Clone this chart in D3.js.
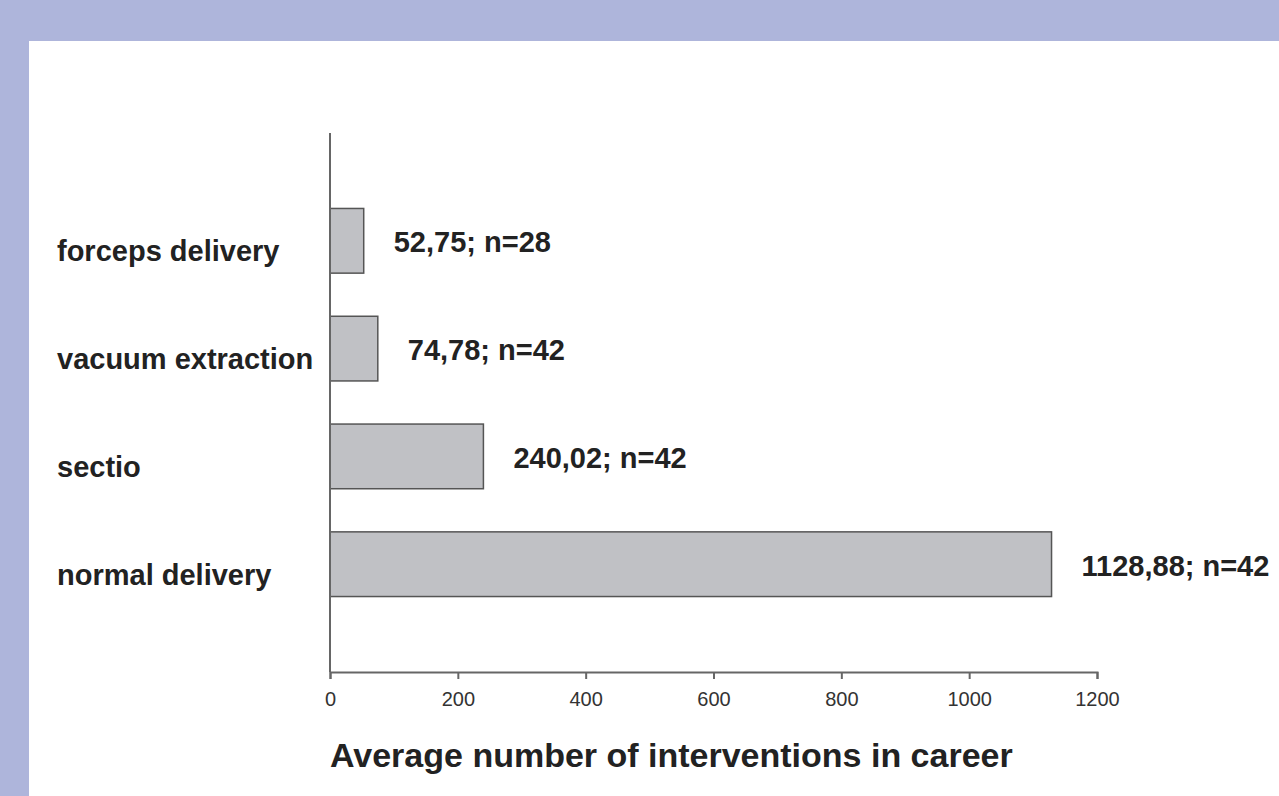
<!DOCTYPE html>
<html lang="en">
<head>
  <meta charset="UTF-8">
  <title>Average number of interventions in career</title>
  <script src="https://d3js.org/d3.v7.min.js"></script>
  <style>
    body { margin: 0; background: #aeb5db; }
    svg { display: block; }
    .cat-label { font-family: "Liberation Sans", Arial, sans-serif; font-weight: bold; font-size: 29px; fill: #222; }
    .bar-label { font-family: "Liberation Sans", Arial, sans-serif; font-weight: bold; font-size: 29px; fill: #222; }
    .axis-title { font-family: "Liberation Sans", Arial, sans-serif; font-weight: bold; font-size: 34px; fill: #222; }
    .x-axis text { font-family: "Liberation Sans", Arial, sans-serif; font-size: 20px; fill: #333; }
    .x-axis path, .x-axis line { stroke: #666; stroke-width: 2; }
  </style>
</head>
<body>
  <svg width="1279" height="796"></svg>

  <script>
    const categories = ['forceps delivery', 'vacuum extraction', 'sectio', 'normal delivery'];
    const values = [52.75, 74.78, 240.02, 1128.88];
    const counts = [28, 42, 42, 42];
    const tickValues = [0, 200, 400, 600, 800, 1000, 1200];

    const svg = d3.select('svg');

    // white panel over the lavender frame
    svg.append('rect')
      .attr('x', 29).attr('y', 41)
      .attr('width', 1279 - 29).attr('height', 796 - 41)
      .attr('fill', '#fff');

    const x0 = 330, x1 = 1097, yTop = 133, yBottom = 672;

    const xScale = d3.scaleLinear().domain([0, 1200]).range([x0, x1]);
    const yScale = d3.scaleBand()
      .domain(categories)
      .range([yTop, yBottom])
      .paddingInner(0.4)
      .paddingOuter(0.7);

    const data = categories.map((c, i) => ({ cat: c, value: values[i], n: counts[i] }));
    const fmt = v => d3.format('.2f')(v).replace('.', ',');

    svg.selectAll('.bar')
      .data(data)
      .enter()
      .append('rect')
      .attr('class', 'bar')
      .attr('x', xScale(0))
      .attr('y', d => yScale(d.cat))
      .attr('width', d => xScale(d.value) - xScale(0))
      .attr('height', yScale.bandwidth())
      .attr('fill', '#c0c1c5')
      .attr('stroke', '#555')
      .attr('stroke-width', 1.5);

    svg.selectAll('.bar-label')
      .data(data)
      .enter()
      .append('text')
      .attr('class', 'bar-label')
      .attr('x', d => xScale(d.value) + 30)
      .attr('y', d => yScale(d.cat) + yScale.bandwidth() / 2)
      .attr('dy', '0.4em')
      .text(d => `${fmt(d.value)}; n=${d.n}`);

    svg.selectAll('.cat-label')
      .data(data)
      .enter()
      .append('text')
      .attr('class', 'cat-label')
      .attr('x', 57)
      .attr('y', d => yScale(d.cat) + yScale.bandwidth() / 2)
      .attr('dy', '0.7em')
      .text(d => d.cat);

    // vertical axis line
    svg.append('line')
      .attr('x1', x0).attr('x2', x0)
      .attr('y1', yTop).attr('y2', yBottom)
      .attr('stroke', '#666')
      .attr('stroke-width', 2);

    svg.append('g')
      .attr('class', 'x-axis')
      .attr('transform', `translate(0,${yBottom})`)
      .call(d3.axisBottom(xScale).tickValues(tickValues).tickFormat(d3.format('d'))
        .tickSizeInner(7).tickSizeOuter(7).tickPadding(13));

    svg.append('text')
      .attr('class', 'axis-title')
      .attr('x', x0)
      .attr('y', 767)
      .text('Average number of interventions in career');
  </script>
</body>
</html>
